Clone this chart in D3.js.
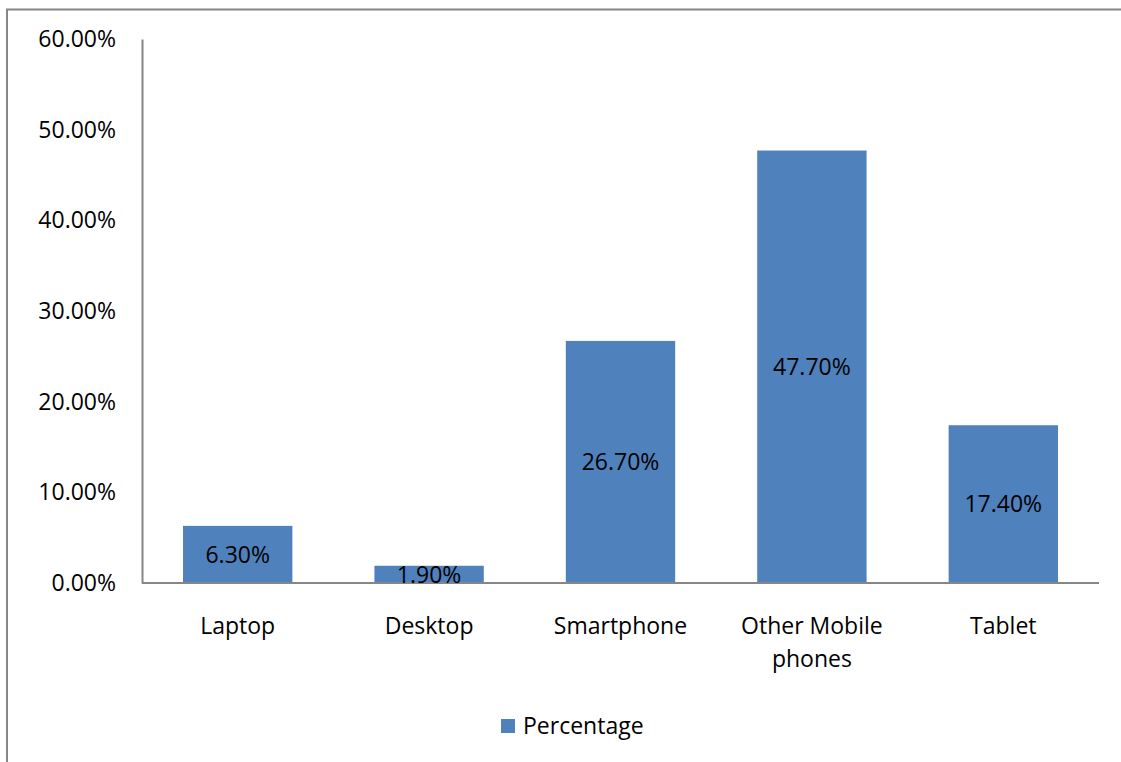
<!DOCTYPE html>
<html>
<head>
<meta charset="utf-8">
<script src="https://cdn.jsdelivr.net/npm/d3@7"></script>
<style>
  html, body { margin: 0; padding: 0; background: #fff; }
  svg { display: block; }
  text { font-family: "Open Sans", sans-serif; fill: #000; }
</style>
</head>
<body>
<svg id="chart" width="1121" height="762"></svg>
<script>
// Device types and their share
const categories = ["Laptop", "Desktop", "Smartphone", "Other Mobile phones", "Tablet"];
const percentages = [6.3, 1.9, 26.7, 47.7, 17.4];
const yTicks = [0, 10, 20, 30, 40, 50, 60];
const seriesName = "Percentage";

const svg = d3.select("#chart");
const W = 1121, H = 762;
const barColor = "#4F81BD";
const axisColor = "#868686";
const fontSize = 23;

// Chart frame (left and top edges visible)
svg.append("path")
  .attr("d", `M7,${H} V9.5 H${W}`)
  .attr("fill", "none")
  .attr("stroke", axisColor)
  .attr("stroke-width", 2);

const plot = { left: 142, right: 1099, top: 39, bottom: 583 };

const x = d3.scaleBand()
  .domain(categories)
  .range([plot.left, plot.right])
  .paddingInner(0.75 / 1.75)
  .paddingOuter(0.75 / 1.75 / 2);

const y = d3.scaleLinear()
  .domain([0, 60])
  .range([plot.bottom, plot.top]);

// Bars
svg.append("g").selectAll("rect")
  .data(percentages)
  .join("rect")
  .attr("x", (d, i) => x(categories[i]))
  .attr("y", d => y(d))
  .attr("width", x.bandwidth())
  .attr("height", d => y(0) - y(d))
  .attr("fill", barColor);

// Y axis
const yAxis = d3.axisLeft(y)
  .tickValues(yTicks)
  .tickSize(0)
  .tickPadding(26)
  .tickFormat(d => d.toFixed(2) + "%");
const gy = svg.append("g").attr("transform", `translate(${plot.left},0)`).call(yAxis);
gy.select(".domain").attr("stroke", axisColor).attr("stroke-width", 2);
gy.selectAll("text").attr("font-size", fontSize).attr("fill", "#000")
  .style("font-family", "'Open Sans', sans-serif");

// X axis
const xAxis = d3.axisBottom(x).tickSize(0).tickPadding(0).tickFormat("");
const gx = svg.append("g").attr("transform", `translate(0,${plot.bottom})`).call(xAxis);
gx.select(".domain").attr("stroke", axisColor).attr("stroke-width", 2)
  .attr("d", `M${plot.left},0H${plot.right}`);

// Category labels (wrapped where needed)
const labelLines = {
  "Laptop": ["Laptop"],
  "Desktop": ["Desktop"],
  "Smartphone": ["Smartphone"],
  "Other Mobile phones": ["Other Mobile", "phones"],
  "Tablet": ["Tablet"]
};
const catLabels = svg.append("g").selectAll("text")
  .data(categories)
  .join("text")
  .attr("x", d => x(d) + x.bandwidth() / 2)
  .attr("y", 634)
  .attr("text-anchor", "middle")
  .attr("font-size", fontSize);
catLabels.each(function (d) {
  const t = d3.select(this);
  labelLines[d].forEach((line, k) => {
    t.append("tspan")
      .attr("x", x(d) + x.bandwidth() / 2)
      .attr("dy", k === 0 ? 0 : 33)
      .text(line);
  });
});

// Value labels centered within each bar
svg.append("g").selectAll("text")
  .data(percentages)
  .join("text")
  .attr("x", (d, i) => x(categories[i]) + x.bandwidth() / 2)
  .attr("y", d => (y(d) + y(0)) / 2)
  .attr("dy", "0.36em")
  .attr("text-anchor", "middle")
  .attr("font-size", fontSize)
  .text(d => d.toFixed(2) + "%");

// Legend
const legend = svg.append("g").attr("transform", "translate(501,719)");
legend.append("rect").attr("width", 14).attr("height", 14).attr("fill", barColor);
legend.append("text")
  .attr("x", 22).attr("y", 7).attr("dy", "0.36em")
  .attr("font-size", fontSize)
  .text(seriesName);
</script>
</body>
</html>
